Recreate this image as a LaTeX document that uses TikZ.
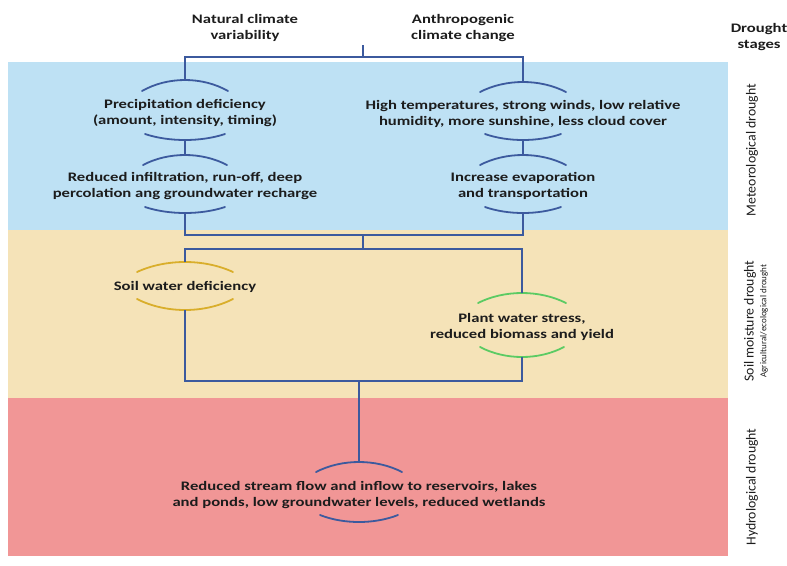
\documentclass[tikz,border=0pt]{standalone}
\usepackage{fontspec}
\setmainfont{Carlito}
\newfontfamily\widefont[FakeStretch=1.28]{Carlito}
\definecolor{bandblue}{HTML}{BEE1F4}
\definecolor{bandbeige}{HTML}{F5E3B8}
\definecolor{bandpink}{HTML}{F19696}
\definecolor{linec}{HTML}{3C5A9E}
\definecolor{arcyellow}{HTML}{D9AE2B}
\definecolor{arcgreen}{HTML}{5BCB63}
\definecolor{txt}{HTML}{1C1C1C}
\newcommand\tarc[6]{% name, cx, peak y, half width, sag, colour
  \coordinate (#1) at (#2,#3);
  \draw[arcline,#6] (#2-#4,#3+#5) .. controls (#2-#4*0.4,#3-#5/3) and (#2+#4*0.4,#3-#5/3) .. (#2+#4,#3+#5);}
\newcommand\barc[6]{%
  \coordinate (#1) at (#2,#3);
  \draw[arcline,#6] (#2-#4,#3-#5) .. controls (#2-#4*0.4,#3+#5/3) and (#2+#4*0.4,#3+#5/3) .. (#2+#4,#3-#5);}
\begin{document}
\begin{tikzpicture}[x=1pt,y=-1pt,
  arcline/.style={line width=1.8pt,line cap=round},
  conn/.style={draw=linec,line width=1.8pt},
  lbl/.style={text=txt,font=\widefont\bfseries\fontsize{13}{16.5}\selectfont,align=center,inner sep=0pt},
  side/.style={text=txt,font=\fontsize{13.8}{15}\selectfont,align=center,inner sep=0pt,rotate=90},
  sidesmall/.style={text=txt,font=\fontsize{9}{10}\selectfont,align=center,inner sep=0pt,rotate=90}]
\useasboundingbox (0,0) rectangle (787,565);
% bands
\fill[bandblue] (8,62) rectangle (728,230);
\fill[bandbeige] (8,230) rectangle (728,398);
\fill[bandpink] (8,398) rectangle (728,556);
% labels
\node[lbl] (nat) at (245,28) {Natural climate\\variability};
\node[lbl] (anth) at (463,28) {Anthropogenic\\climate change};
\node[lbl] (stages) at (759,37) {Drought\\stages};
\node[lbl] (prec) at (185,113) {Precipitation deficiency\\(amount, intensity, timing)};
\node[lbl] (infil) at (185,186) {Reduced infiltration, run-off, deep\\percolation ang groundwater recharge};
\node[lbl] (high) at (523,114) {High temperatures, strong winds, low relative\\humidity, more sunshine, less cloud cover};
\node[lbl] (evap) at (523,186) {Increase evaporation\\and transportation};
\node[lbl] (soil) at (185,287) {Soil water deficiency};
\node[lbl] (plant) at (522,327) {Plant water stress,\\reduced biomass and yield};
\node[lbl] (stream) at (359,495) {Reduced stream flow and inflow to reservoirs, lakes\\and ponds, low groundwater levels, reduced wetlands};
\node[side] (met) at (752,150) {Meteorological drought};
\node[side] (soilm) at (750,321) {Soil moisture drought};
\node[sidesmall] (agri) at (764,321) {Agricultural/ecological drought};
\node[side] (hyd) at (752,487) {Hydrological drought};
% arcs
\tarc{precT}{185}{80}{43}{11}{linec}
\barc{precB}{185}{140}{40}{6}{linec}
\tarc{infT}{185}{155}{42}{10}{linec}
\barc{infB}{185}{213}{40}{6}{linec}
\tarc{highT}{523}{82}{43}{10}{linec}
\barc{highB}{523}{140}{38}{6}{linec}
\tarc{evT}{523}{155}{43}{10}{linec}
\barc{evB}{523}{213}{38}{6}{linec}
\tarc{soilT}{185}{262}{48}{10}{arcyellow}
\barc{soilB}{185}{310}{48}{11}{arcyellow}
\tarc{plT}{522}{293}{44}{10}{arcgreen}
\barc{plB}{522}{357}{42}{10}{arcgreen}
\tarc{stT}{359}{462}{43}{10}{linec}
\barc{stB}{359}{522}{39}{7}{linec}
% junction coordinates
\coordinate (s0) at (363,45);
\coordinate (s1) at (363,57);
\coordinate (s2) at (363,235);
\coordinate (s3) at (363,249);
\coordinate (s4) at (359,381);
% connectors
\draw[conn] (s0) -- (s1);
\draw[conn] (precT) |- (s1) -| (highT);
\draw[conn] (precB) -- (infT);
\draw[conn] (highB) -- (evT);
\draw[conn] (infB) |- (s2) -| (evB);
\draw[conn] (s2) -- (s3);
\draw[conn] (soilT) |- (s3) -| (plT);
\draw[conn] (soilB) |- (s4) -| (plB);
\draw[conn] (s4) -- (stT);
\end{tikzpicture}
\end{document}
